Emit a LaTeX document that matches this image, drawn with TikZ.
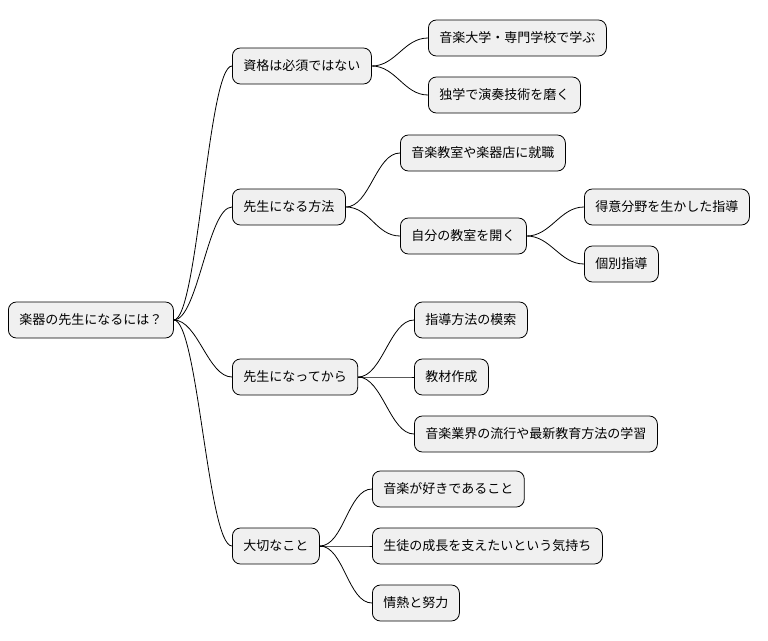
\documentclass[tikz,border=0pt]{standalone}
\usepackage{fontspec}
\newfontfamily\cjk{Noto Sans CJK JP}
\begin{document}
\begin{tikzpicture}[x=1pt,y=-1pt,
  box/.style={draw=black,fill=black!6,rounded corners=8pt,minimum height=36pt,inner xsep=11pt,anchor=west,font=\cjk\fontsize{13}{15}\selectfont,line width=0.8pt},
  link/.style={line width=0.8pt}]
\useasboundingbox (0,0) rectangle (768,640);
\node[box] (r) at (8,320) {楽器の先生になるには？};
\node[box] (a) at (232,66) {資格は必須ではない};
\node[box] (a1) at (428,38) {音楽大学・専門学校で学ぶ};
\node[box] (a2) at (428,95) {独学で演奏技術を磨く};
\node[box] (b) at (232,207) {先生になる方法};
\node[box] (b1) at (400,153) {音楽教室や楽器店に就職};
\node[box] (b2) at (400,236) {自分の教室を開く};
\node[box] (b21) at (584,207) {得意分野を生かした指導};
\node[box] (b22) at (584,264) {個別指導};
\node[box] (c) at (232,377) {先生になってから};
\node[box] (c1) at (414,320) {指導方法の模索};
\node[box] (c2) at (414,377) {教材作成};
\node[box] (c3) at (414,434) {音楽業界の流行や最新教育方法の学習};
\node[box] (d) at (232,546) {大切なこと};
\node[box] (d1) at (372,489) {音楽が好きであること};
\node[box] (d2) at (372,546) {生徒の成長を支えたいという気持ち};
\node[box] (d3) at (372,603) {情熱と努力};
\foreach \p/\c in {r/a,r/b,r/c,r/d,a/a1,a/a2,b/b1,b/b2,b2/b21,b2/b22,c/c1,c/c2,c/c3,d/d1,d/d2,d/d3}
  \draw[link] (\p.east) .. controls +(24,0) and +(-24,0) .. (\c.west);
\end{tikzpicture}
\end{document}
